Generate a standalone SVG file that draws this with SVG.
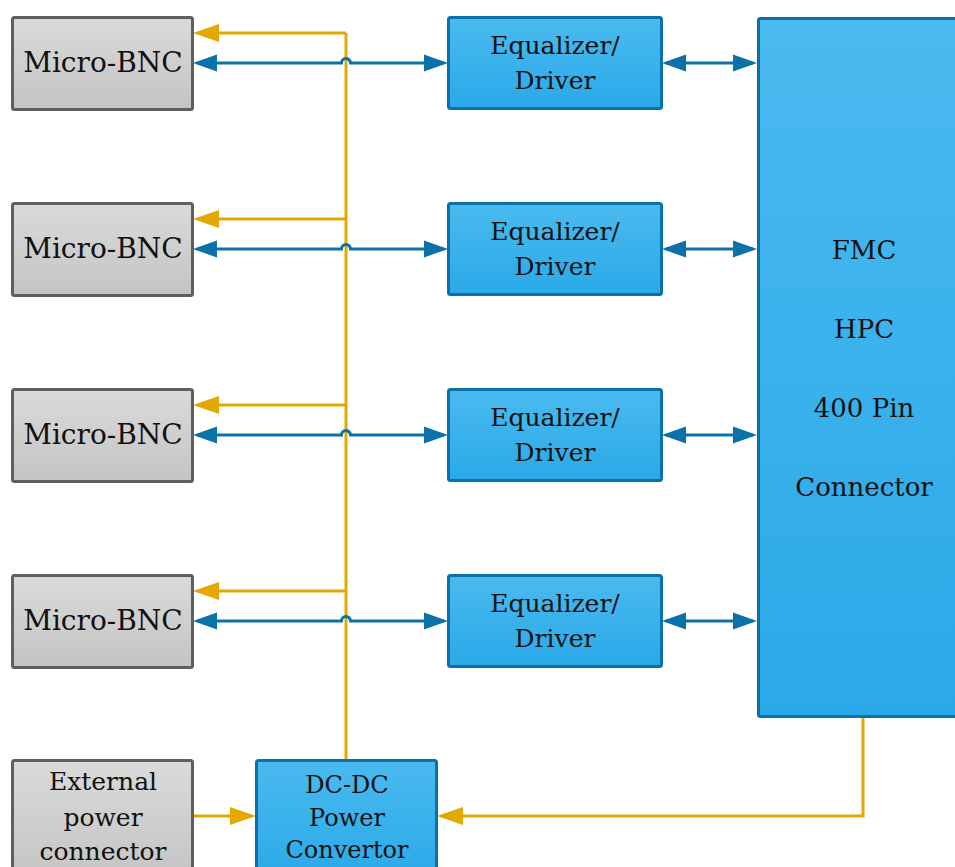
<svg xmlns="http://www.w3.org/2000/svg" width="955" height="867" viewBox="0 0 955 867">
<style>
.gray{fill:url(#gg);stroke:#5f5f5f;stroke-width:3}
.blue{fill:url(#bg);stroke:#0a72a8;stroke-width:3}
.t{font-family:"DejaVu Serif","Liberation Serif",serif;fill:#111;text-anchor:middle}
.bl{fill:none;stroke:#0a72a8;stroke-width:3}
.yl{fill:none;stroke:#e3a900;stroke-width:3}
</style>
<defs>
<linearGradient id="gg" x1="0" y1="0" x2="0" y2="1"><stop offset="0" stop-color="#dadada"/><stop offset="1" stop-color="#c4c4c4"/></linearGradient>
<linearGradient id="bg" x1="0" y1="0" x2="0" y2="1"><stop offset="0" stop-color="#4abaef"/><stop offset="1" stop-color="#2aa9e8"/></linearGradient>
<marker id="ab" markerUnits="userSpaceOnUse" markerWidth="24" markerHeight="18" viewBox="0 0 24 18" refX="20" refY="9" orient="auto-start-reverse"><path d="M0,0.5 L24,9 L0,17.5 z" fill="#0a72a8"/></marker>
<marker id="ay" markerUnits="userSpaceOnUse" markerWidth="26" markerHeight="19" viewBox="0 0 26 19" refX="22" refY="9.5" orient="auto-start-reverse"><path d="M0,0.5 L26,9.5 L0,18.5 z" fill="#e3a900"/></marker>
</defs>
<g id="connectors">
<path class="yl" d="M346,760 V33"/>
<path class="yl" d="M346,33 H197" marker-end="url(#ay)"/>
<path class="yl" d="M346,219 H197" marker-end="url(#ay)"/>
<path class="yl" d="M346,405 H197" marker-end="url(#ay)"/>
<path class="yl" d="M346,591 H197" marker-end="url(#ay)"/>
<path class="bl" d="M197,63 H341.5 A4.5,4.5 0 0 1 350.5,63 H444" marker-start="url(#ab)" marker-end="url(#ab)"/>
<path class="bl" d="M197,249 H341.5 A4.5,4.5 0 0 1 350.5,249 H444" marker-start="url(#ab)" marker-end="url(#ab)"/>
<path class="bl" d="M197,435 H341.5 A4.5,4.5 0 0 1 350.5,435 H444" marker-start="url(#ab)" marker-end="url(#ab)"/>
<path class="bl" d="M197,621 H341.5 A4.5,4.5 0 0 1 350.5,621 H444" marker-start="url(#ab)" marker-end="url(#ab)"/>
<path class="bl" d="M666,63 H753" marker-start="url(#ab)" marker-end="url(#ab)"/>
<path class="bl" d="M666,249 H753" marker-start="url(#ab)" marker-end="url(#ab)"/>
<path class="bl" d="M666,435 H753" marker-start="url(#ab)" marker-end="url(#ab)"/>
<path class="bl" d="M666,621 H753" marker-start="url(#ab)" marker-end="url(#ab)"/>
<path class="yl" d="M193,816 H252" marker-end="url(#ay)"/>
<path class="yl" d="M863,718 V816 H441" marker-end="url(#ay)"/>
</g>
<g id="bnc1"><rect class="gray" x="12.5" y="17.5" width="180" height="92" rx="2"/><text class="t" x="103" y="72" font-size="28">Micro-BNC</text></g>
<g id="bnc2"><rect class="gray" x="12.5" y="203.5" width="180" height="92" rx="2"/><text class="t" x="103" y="258" font-size="28">Micro-BNC</text></g>
<g id="bnc3"><rect class="gray" x="12.5" y="389.5" width="180" height="92" rx="2"/><text class="t" x="103" y="444" font-size="28">Micro-BNC</text></g>
<g id="bnc4"><rect class="gray" x="12.5" y="575.5" width="180" height="92" rx="2"/><text class="t" x="103" y="630" font-size="28">Micro-BNC</text></g>
<g id="eq1"><rect class="blue" x="448.5" y="17.5" width="213" height="91" rx="2"/><text class="t" x="555" y="54" font-size="25">Equalizer/</text><text class="t" x="555" y="89" font-size="25">Driver</text></g>
<g id="eq2"><rect class="blue" x="448.5" y="203.5" width="213" height="91" rx="2"/><text class="t" x="555" y="240" font-size="25">Equalizer/</text><text class="t" x="555" y="275" font-size="25">Driver</text></g>
<g id="eq3"><rect class="blue" x="448.5" y="389.5" width="213" height="91" rx="2"/><text class="t" x="555" y="426" font-size="25">Equalizer/</text><text class="t" x="555" y="461" font-size="25">Driver</text></g>
<g id="eq4"><rect class="blue" x="448.5" y="575.5" width="213" height="91" rx="2"/><text class="t" x="555" y="612" font-size="25">Equalizer/</text><text class="t" x="555" y="647" font-size="25">Driver</text></g>
<g id="fmc"><rect class="blue" x="758.5" y="18.5" width="220" height="698" rx="2"/>
<text class="t" x="864" y="259" font-size="26">FMC</text>
<text class="t" x="864" y="338" font-size="26">HPC</text>
<text class="t" x="864" y="417" font-size="26">400 Pin</text>
<text class="t" x="864" y="496" font-size="26">Connector</text></g>
<g id="ext"><rect class="gray" x="12.5" y="760.5" width="180" height="120" rx="2"/>
<text class="t" x="103" y="790" font-size="25">External</text>
<text class="t" x="103" y="826" font-size="25">power</text>
<text class="t" x="103" y="860" font-size="25">connector</text></g>
<g id="dcdc"><rect class="blue" x="256.5" y="760.5" width="180" height="120" rx="2"/>
<text class="t" x="347" y="793" font-size="24">DC-DC</text>
<text class="t" x="347" y="826" font-size="24">Power</text>
<text class="t" x="347" y="858" font-size="24">Convertor</text></g>
</svg>
